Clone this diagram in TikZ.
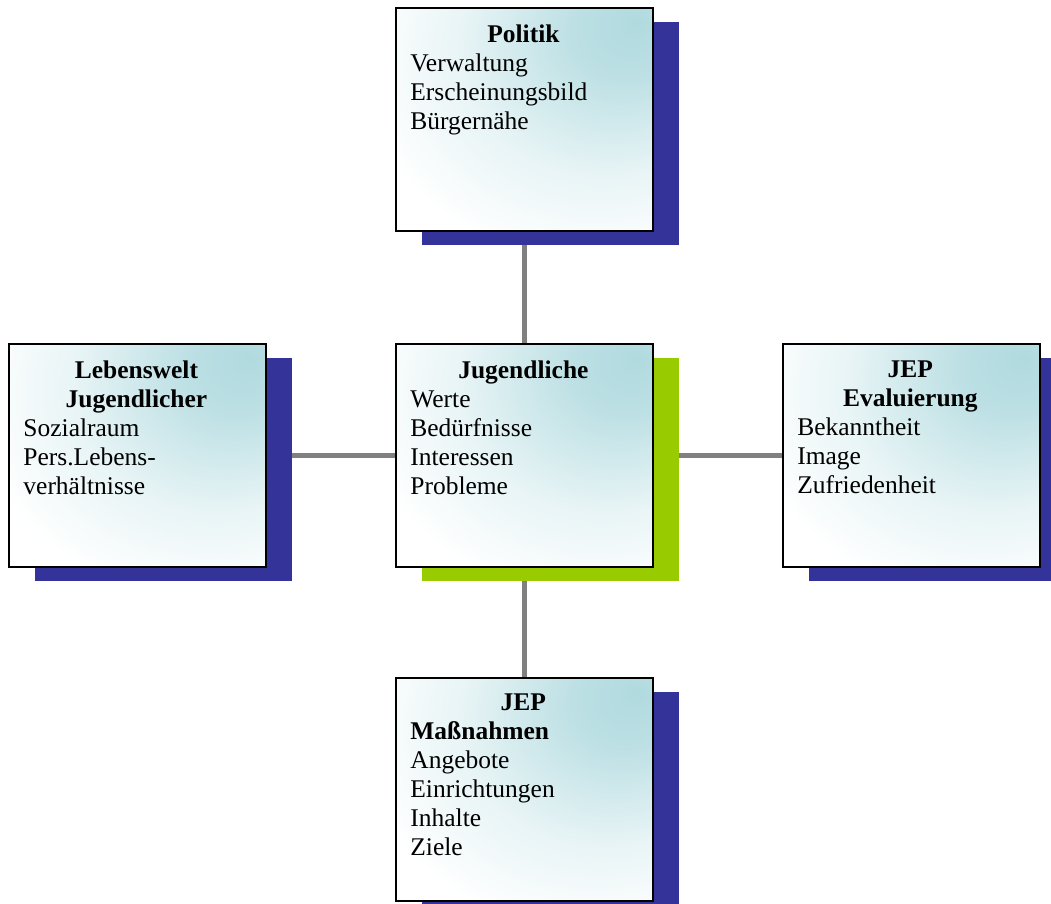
\documentclass[tikz,border=0pt]{standalone}
\usepackage{fontspec}
\setmainfont{Liberation Serif}
\usetikzlibrary{positioning, shadows, backgrounds}

\definecolor{paleteal}{RGB}{176,218,223}
\definecolor{shadeblue}{RGB}{51,51,153}
\definecolor{shadegreen}{RGB}{153,204,0}
\definecolor{linkgray}{RGB}{128,128,128}

\pgfdeclareradialshading{cardshade}{\pgfpoint{22bp}{22bp}}{%
  color(0bp)=(paleteal); color(10bp)=(paleteal!85!white);
  color(28bp)=(paleteal!30!white); color(44bp)=(white); color(100bp)=(white)}

\begin{document}
\begin{tikzpicture}[
  font=\fontsize{14.5}{16.5}\selectfont,
  card/.style={draw=black, line width=1.1pt, minimum width=5.14cm, minimum height=4.46cm, inner sep=0pt,
    shade, shading=cardshade,
    drop shadow={shadow xshift=0.52cm, shadow yshift=-0.28cm, fill=#1, opacity=1}},
  card/.default=shadeblue,
  cardtext/.style={anchor=north west, text width=4.52cm, inner sep=0pt, align=left},
  link/.style={draw=linkgray, line width=2.8pt}
]
\useasboundingbox (0,0) rectangle (21.02,18.08);
\clip (0,0) rectangle (21.02,18.08);

% boxes
\node[card=shadegreen] (jug) at (10.49,8.97) {};
\node[card, above=2.22cm of jug] (pol) {};
\node[card, left=2.56cm of jug] (lw) {};
\node[card, right=2.56cm of jug] (eval) {};
\node[card, below=2.18cm of jug] (mass) {};

% texts
\node[cardtext] (jug-t) at ([xshift=0.3cm, yshift=-0.34cm]jug.north west)
  {\makebox[\linewidth]{\textbf{Jugendliche}}\\Werte\\Bedürfnisse\\Interessen\\Probleme};
\node[cardtext] (pol-t) at ([xshift=0.3cm, yshift=-0.34cm]pol.north west)
  {\makebox[\linewidth]{\textbf{Politik}}\\Verwaltung\\Erscheinungsbild\\Bürgernähe};
\node[cardtext] (lw-t) at ([xshift=0.3cm, yshift=-0.34cm]lw.north west)
  {\makebox[\linewidth]{\textbf{Lebenswelt}}\\\makebox[\linewidth]{\textbf{Jugendlicher}}\\Sozialraum\\Pers.Lebens-\\verhältnisse};
\node[cardtext] (eval-t) at ([xshift=0.3cm, yshift=-0.34cm]eval.north west)
  {\makebox[\linewidth]{\textbf{JEP}}\\\makebox[\linewidth]{\textbf{Evaluierung}}\\Bekanntheit\\Image\\Zufriedenheit};
\node[cardtext] (mass-t) at ([xshift=0.3cm, yshift=-0.34cm]mass.north west)
  {\makebox[\linewidth]{\textbf{JEP}}\\\textbf{Maßnahmen}\\Angebote\\Einrichtungen\\Inhalte\\Ziele};

% connectors
\begin{scope}[on background layer]
\draw[link] (jug) -- (pol);
\draw[link] (jug) -- (lw);
\draw[link] (jug) -- (eval);
\draw[link] (jug) -- (mass);
\end{scope}
\end{tikzpicture}
\end{document}
